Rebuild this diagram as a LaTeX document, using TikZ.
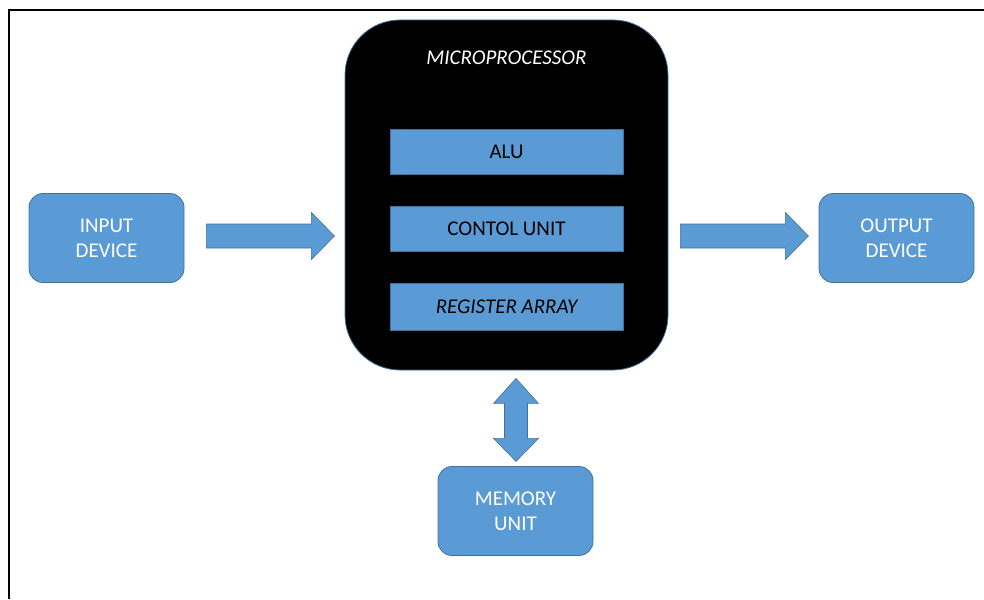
\documentclass[tikz,border=0pt]{standalone}
\usepackage{fontspec}
\setmainfont{Carlito}
\usetikzlibrary{calc}
\definecolor{boxblue}{HTML}{5B9BD5}
\definecolor{edgeblue}{HTML}{41719C}
\tikzset{
  unitbox/.style={draw=edgeblue, line width=0.8pt, fill=boxblue, rounded corners=14pt,
    minimum width=155pt, minimum height=89pt, text=white, align=center,
    font=\fontsize{21}{25}\selectfont, inner sep=0pt},
  innerbox/.style={draw=edgeblue, line width=0.6pt, fill=boxblue, minimum width=233pt,
    minimum height=45pt, text=black, font=\fontsize{21}{24}\selectfont, inner sep=0pt},
  cpu/.style={draw=edgeblue, line width=0.8pt, fill=black, rounded corners=55pt,
    minimum width=323pt, minimum height=350pt, inner sep=0pt},
  blockarrow/.style={draw=edgeblue, line width=0.6pt, fill=boxblue}
}
\begin{document}
\begin{tikzpicture}[x=1pt, y=-1pt]
  \useasboundingbox (0,0) rectangle (984,599);
  % frame
  \draw[line width=2.4pt] (984,10) -- (9,10) -- (9,599);

  % microprocessor and its parts
  \node[cpu] (cpu) at (506.5,195) {};
  \node[text=white, font=\fontsize{21}{24}\selectfont\itshape] (cputitle) at (506.5,58) {MICROPROCESSOR};
  \node[innerbox] (alu) at (506.5,151.5) {ALU};
  \node[innerbox] (cu) at (506.5,228.5) {CONTOL UNIT};
  \node[innerbox, minimum height=47pt, font=\fontsize{21}{24}\selectfont\itshape] (reg) at (506.5,306.5) {REGISTER ARRAY};

  % peripheral units
  \node[unitbox] (in) at (106.5,238) {INPUT\\DEVICE};
  \node[unitbox] (out) at (896.5,238) {OUTPUT\\DEVICE};
  \node[unitbox] (mem) at (515.5,511) {MEMORY\\UNIT};

  % block arrows
  \coordinate (a1) at ($(in.east)+(22,-2.5)$);
  \draw[blockarrow] ($(a1)+(0,-11.5)$) -- ++(105,0) -- ++(0,-11.5) -- ++(23,23.5)
    -- ++(-23,23.5) -- ++(0,-11.5) -- ++(-105,0) -- cycle;
  \coordinate (a2) at ($(cpu.east)+(12,40.5)$);
  \draw[blockarrow] ($(a2)+(0,-11.5)$) -- ++(105,0) -- ++(0,-11.5) -- ++(23,23.5)
    -- ++(-23,23.5) -- ++(0,-11.5) -- ++(-105,0) -- cycle;
  \coordinate (a3) at ($(cpu.south)+(9.5,8)$);
  \draw[blockarrow] (a3) -- ++(22.5,25) -- ++(-11,0) -- ++(0,35) -- ++(11,0)
    -- ++(-22.5,23) -- ++(-22.5,-23) -- ++(11,0) -- ++(0,-35) -- ++(-11,0) -- cycle;
\end{tikzpicture}
\end{document}
